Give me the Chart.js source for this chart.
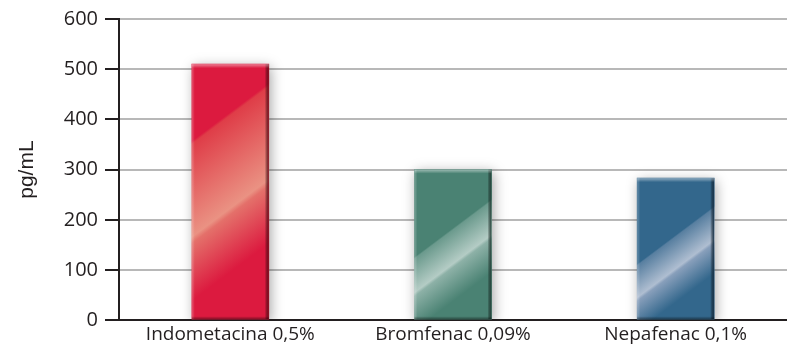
<!DOCTYPE html>
<html>
<head>
<meta charset="utf-8">
<script src="https://cdn.jsdelivr.net/npm/chart.js@4.4.1/dist/chart.umd.min.js"></script>
<style>
  html, body { margin: 0; padding: 0; background: #fff; }
  #wrap { width: 787px; height: 349px; }
</style>
</head>
<body>
<div id="wrap"><canvas id="chart"></canvas></div>
<script>
const categories = ["Indometacina 0,5%", "Bromfenac 0,09%", "Nepafenac 0,1%"];
const values = [510, 300, 283];
const yTicks = [0, 100, 200, 300, 400, 500, 600];

// base / band / highlight / after-highlight shades per bar
const baseColors = ["#dc1a3f", "#4a8273", "#33678c"];
const midColors = ["#df3d48", "#6b9a8d", "#587fa0"];
const peakColors = ["#ea9283", "#b4ccc5", "#afbed1"];
const afterColors = ["#e4706a", "#8db1a7", "#889fbb"];
const edgeColors = ["#7e0e1e", "#284a40", "#1b3850"];
// where the sheen starts / peaks / ends along each bar's diagonal
const sheenStart = [0.25, 0.41, 0.42];
const sheenPeak = [0.55, 0.6, 0.61];
const sheenEnd = [0.75, 0.8, 0.8];

const textColor = "#231f20";
const barWidth = 77;

function barGradient(ctx) {
  const chart = ctx.chart;
  const i = ctx.dataIndex;
  const xs = chart.scales.x, ys = chart.scales.y;
  if (!xs || !ys || !chart.chartArea) return baseColors[i];
  const cx = xs.getPixelForValue(i);
  const top = ys.getPixelForValue(values[i]);
  const base = ys.getPixelForValue(0);
  if (!isFinite(cx) || !isFinite(top)) return baseColors[i];
  const cy = (top + base) / 2;
  const L = (base - top) / 2;
  const dx = 0.6 * L, dy = 0.8 * L;
  const g = chart.ctx.createLinearGradient(cx - dx, cy - dy, cx + dx, cy + dy);
  g.addColorStop(0, baseColors[i]);
  g.addColorStop(sheenStart[i], baseColors[i]);
  g.addColorStop(sheenStart[i] + 0.01, midColors[i]);
  g.addColorStop(sheenPeak[i], peakColors[i]);
  g.addColorStop(sheenPeak[i] + 0.02, afterColors[i]);
  g.addColorStop(sheenEnd[i], baseColors[i]);
  g.addColorStop(1, baseColors[i]);
  return g;
}

// soft shadow behind bars + bevel edges
const barEffects = {
  id: "barEffects",
  beforeDatasetDraw(chart) {
    const c = chart.ctx;
    c.save();
    c.shadowColor = "rgba(0,0,0,0.35)";
    c.shadowBlur = 12;
    c.shadowOffsetX = 2;
    c.shadowOffsetY = 3;
  },
  afterDatasetDraw(chart) {
    const c = chart.ctx;
    c.restore();
    chart.getDatasetMeta(0).data.forEach((el, i) => {
      const left = el.x - el.width / 2;
      const right = el.x + el.width / 2;
      const h = el.base - el.y;
      c.save();
      // right dark edge
      let g = c.createLinearGradient(right - 4, 0, right, 0);
      g.addColorStop(0, "rgba(0,0,0,0)");
      g.addColorStop(1, edgeColors[i]);
      c.fillStyle = g;
      c.fillRect(right - 4, el.y, 4, h);
      // left soft highlight
      g = c.createLinearGradient(left, 0, left + 3, 0);
      g.addColorStop(0, "rgba(255,255,255,0.25)");
      g.addColorStop(1, "rgba(255,255,255,0)");
      c.fillStyle = g;
      c.fillRect(left, el.y, 3, h);
      // top light edge
      g = c.createLinearGradient(0, el.y, 0, el.y + 4);
      g.addColorStop(0, "rgba(255,255,255,0.45)");
      g.addColorStop(1, "rgba(255,255,255,0)");
      c.fillStyle = g;
      c.fillRect(left, el.y, el.width, 4);
      // bottom dark edge
      g = c.createLinearGradient(0, el.base - 3, 0, el.base);
      g.addColorStop(0, "rgba(0,0,0,0)");
      g.addColorStop(1, "rgba(0,0,0,0.4)");
      c.fillStyle = g;
      c.fillRect(left, el.base - 3, el.width, 3);
      c.restore();
    });
  }
};

new Chart(document.getElementById("chart"), {
  type: "bar",
  data: {
    labels: categories,
    datasets: [{
      data: values,
      backgroundColor: barGradient,
      borderWidth: 0,
      barThickness: barWidth
    }]
  },
  options: {
    responsive: true,
    maintainAspectRatio: false,
    animation: false,
    layout: { padding: { top: 19, right: 0, bottom: 0, left: 0 } },
    plugins: { legend: { display: false }, tooltip: { enabled: false } },
    scales: {
      x: {
        grid: { display: false, drawTicks: false },
        border: { color: textColor, width: 2 },
        ticks: { color: textColor, font: { family: "Open Sans", size: 19 }, padding: 3 }
      },
      y: {
        min: 0,
        max: 600,
        afterBuildTicks: (s) => { s.ticks = yTicks.map(v => ({ value: v })); },
        afterFit: (s) => { s.width = 119; },
        ticks: { color: textColor, font: { family: "Open Sans", size: 20 }, padding: 7 },
        grid: { color: "#b8b8b8", lineWidth: 2, tickColor: textColor, tickLength: 14, drawTicks: true },
        border: { color: textColor, width: 2 },
        title: {
          display: true,
          text: "pg/mL",
          color: textColor,
          font: { family: "Liberation Sans", size: 21 },
          padding: { top: 15, bottom: 0 }
        }
      }
    }
  },
  plugins: [barEffects]
});
</script>
</body>
</html>
